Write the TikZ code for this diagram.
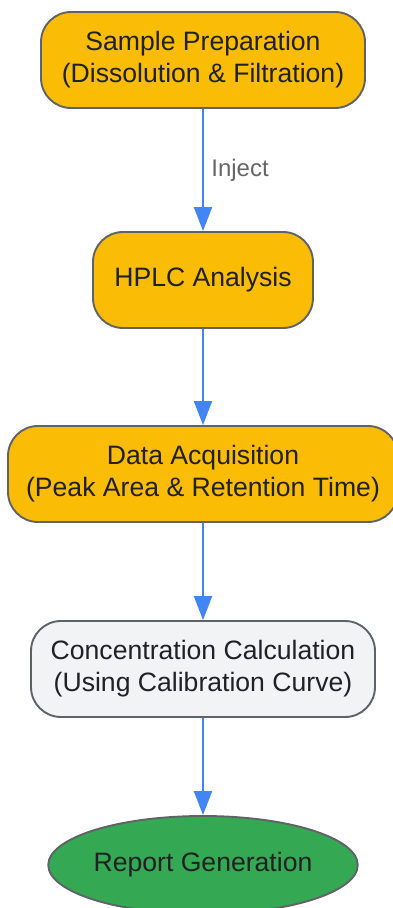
\documentclass[tikz,border=0pt]{standalone}
\usepackage{fontspec}
\setmainfont{Liberation Sans}
\usepackage{tikz}
\usetikzlibrary{positioning, arrows.meta, shapes, calc}
\definecolor{stepyellow}{HTML}{FBBC05}
\definecolor{steplight}{HTML}{F1F3F4}
\definecolor{stepgreen}{HTML}{34A853}
\definecolor{stepborder}{HTML}{5F6368}
\definecolor{steptext}{HTML}{202124}
\definecolor{flowblue}{HTML}{4285F4}
\definecolor{labelgray}{HTML}{666666}

\begin{document}
\begin{tikzpicture}[
        x=1pt, y=-1pt,
        stage/.style={rectangle, rounded corners=30pt, draw=stepborder, line width=1.9pt, minimum height=96pt, inner sep=0pt, align=center, text=steptext, font=\fontsize{26.6}{32}\selectfont},
        result/.style={ellipse, draw=stepborder, line width=1.9pt, fill=stepgreen, minimum width=308pt, minimum height=98pt, inner sep=0pt, text=steptext, font=\fontsize{26.6}{32}\selectfont},
        flow/.style={draw=flowblue, line width=2pt, -{Triangle[length=24pt, width=18pt]}},
        flowlabel/.style={text=labelgray, font=\fontsize{24}{28}\selectfont}
    ]
    \useasboundingbox (0,0) rectangle (393,908);

    \node[stage, fill=stepyellow, minimum width=324pt] (prep) at (203, 60) {Sample Preparation\\(Dissolution \& Filtration)};
    \node[stage, fill=stepyellow, minimum width=220pt] (hplc) at (203, 280) {HPLC Analysis};
    \node[stage, fill=stepyellow, minimum width=390pt] (acq) at (203, 474) {Data Acquisition\\(Peak Area \& Retention Time)};
    \node[stage, fill=steplight, minimum width=344pt] (calc) at (203, 669) {Concentration Calculation\\(Using Calibration Curve)};
    \node[result] (report) at (203, 865) {Report Generation};

    % connectors, top to bottom
    \draw[flow] (prep) -- node[flowlabel, right=4pt] {Inject} (hplc);
    \draw[flow] (hplc) -- (acq);
    \draw[flow] (acq) -- (calc);
    \draw[flow] (calc) -- (report);
\end{tikzpicture}
\end{document}
